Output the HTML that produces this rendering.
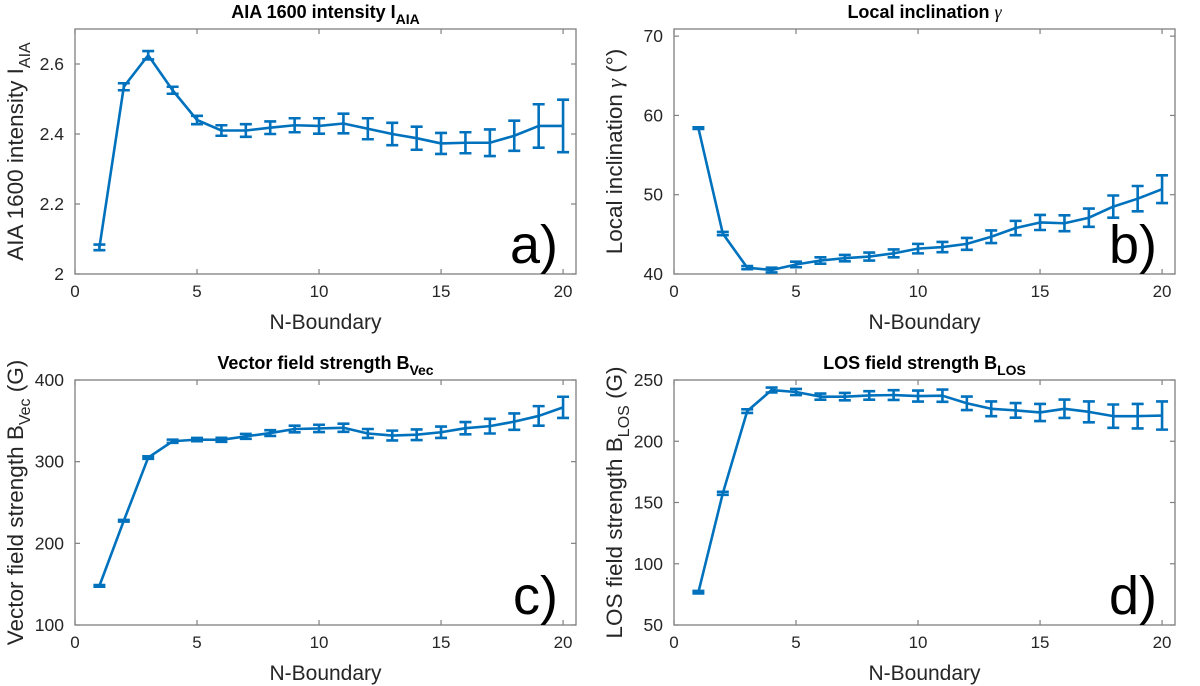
<!DOCTYPE html>
<html><head><meta charset="utf-8"><style>
body{margin:0;background:#fff;}
svg{display:block;font-family:"Liberation Sans",Arial,sans-serif;}
</style></head><body>
<svg id="fig" width="1200" height="686" viewBox="0 0 1200 686" xmlns="http://www.w3.org/2000/svg"></svg>
<script>
const nBoundary = [1,2,3,4,5,6,7,8,9,10,11,12,13,14,15,16,17,18,19,20];
const aiaValues = [2.076,2.535,2.625,2.525,2.44,2.41,2.41,2.418,2.425,2.423,2.43,2.415,2.40,2.388,2.373,2.375,2.375,2.395,2.423,2.423];
const aiaErrors = [0.008,0.01,0.012,0.01,0.012,0.015,0.018,0.018,0.02,0.022,0.028,0.03,0.032,0.033,0.03,0.03,0.038,0.043,0.062,0.075];
const incValues = [58.4,45.1,40.8,40.5,41.2,41.7,42.0,42.2,42.6,43.2,43.4,43.8,44.7,45.8,46.5,46.4,47.1,48.5,49.5,50.7];
const incErrors = [0.1,0.2,0.2,0.3,0.35,0.4,0.4,0.5,0.5,0.6,0.65,0.75,0.8,0.9,0.95,1.0,1.15,1.4,1.6,1.75];
const vecValues = [147.9,227.7,305,325,327,326.8,331,335,340,340.7,341.5,334.5,332,333,336,341,343.5,349,356,366.5];
const vecErrors = [1,1,1.5,2,2,2.5,3,3.5,4,4.5,5,5.5,6,6.5,7,7.5,9,10,12,13];
const losValues = [76.8,157.5,224.6,241.8,240.2,236.4,236.4,237.4,237.7,236.9,237.2,231,226.5,225.2,223.5,226.5,224,220.5,220.5,221];
const losErrors = [1,1.2,1.5,2,2.5,2.5,3,3.5,4,4.5,5,5.5,6,6,7,7.5,8.5,9.5,10,11.5];
const xTicks = [0,5,10,15,20];
const aiaTicks = [2,2.2,2.4,2.6];
const incTicks = [40,50,60,70];
const vecTicks = [100,200,300,400];
const losTicks = [50,100,150,200,250];

const NS="http://www.w3.org/2000/svg";
const svg=document.getElementById('fig');
function mk(tag,attrs,parent){const e=document.createElementNS(NS,tag);for(const k in attrs)e.setAttribute(k,attrs[k]);(parent||svg).appendChild(e);return e;}

function panel(p){
  const g=mk('g',{});
  
  
  const L=p.x0,R=p.x0+501,T=p.y0,B=p.y0+245;
  const sx=v=>L+(v-0)/(20.53-0)*(R-L);
  const sy=v=>B-(v-p.ymin)/(p.ymax-p.ymin)*(B-T);
  const box=mk('rect',{x:L,y:T,width:R-L,height:B-T,fill:'none',stroke:'#808080','stroke-width':1.3},g);
  
  
  xTicks.forEach(t=>{
    const x=sx(t);
    mk('line',{x1:x,x2:x,y1:B,y2:B-5,stroke:'#808080','stroke-width':1.2},g);
    mk('line',{x1:x,x2:x,y1:T,y2:T+5,stroke:'#808080','stroke-width':1.2},g);
    const tl=mk('text',{x:x,y:B+23,'font-size':17,'text-anchor':'middle',fill:'#262626'},g);
    tl.textContent=t;
    
    
  });
  p.ticks.forEach(t=>{
    const y=sy(t);
    mk('line',{x1:L,x2:L+5,y1:y,y2:y,stroke:'#808080','stroke-width':1.2},g);
    mk('line',{x1:R,x2:R-5,y1:y,y2:y,stroke:'#808080','stroke-width':1.2},g);
    const tl=mk('text',{x:L-11,y:y+6,'font-size':17.5,'text-anchor':'end',fill:'#262626'},g);
    tl.textContent=t;
    
    
  });
  const xl=mk('text',{x:(L+R)/2,y:B+55,'font-size':21,'text-anchor':'middle',fill:'#262626'},g);
  xl.textContent='N-Boundary';
  
  
  const yl=mk('text',{x:0,y:0,'font-size':22.5,'text-anchor':'middle',fill:'#262626',transform:`translate(${L-52},${(T+B)/2}) rotate(-90)`},g);
  yl.innerHTML=p.ylabel;
  
  
  const tt=mk('text',{x:(L+R)/2,y:T-11,'font-size':18,'font-weight':'bold','text-anchor':'middle',fill:'#000'},g);
  tt.innerHTML=p.title;
  
  
  const pts=nBoundary.map((n,i)=>sx(n)+','+sy(p.vals[i])).join(' ');
  const line=mk('polyline',{points:pts,fill:'none',stroke:'#0072BD','stroke-width':2.6,'stroke-linejoin':'round'},g);
  
  
  nBoundary.forEach((n,i)=>{
    const x=sx(n),y1=sy(p.vals[i]-p.errs[i]),y2=sy(p.vals[i]+p.errs[i]);
    const eb=mk('path',{d:`M${x},${y1}V${y2}M${x-6},${y1}H${x+6}M${x-6},${y2}H${x+6}`,stroke:'#0072BD','stroke-width':2.6,fill:'none'},g);
    
    
  });
  const lab=mk('text',{x:R-18,y:B-11,'font-size':54,'text-anchor':'end',fill:'#000'},g);
  lab.textContent=p.letter;
  
  
}
panel({id:'aia',x0:75,y0:29,ymin:2,ymax:2.7,ticks:aiaTicks,vals:aiaValues,errs:aiaErrors,letter:'a)',
  title:'AIA 1600 intensity I<tspan font-size="14" dy="6">AIA</tspan>',
  ylabel:'AIA 1600 intensity I<tspan font-size="16" dy="7">AIA</tspan>'});
panel({id:'inclination',x0:674,y0:29,ymin:40,ymax:70.9,ticks:incTicks,vals:incValues,errs:incErrors,letter:'b)',
  title:'Local inclination <tspan font-family="Liberation Serif" font-style="italic" font-weight="normal">γ</tspan>',
  ylabel:'Local inclination <tspan font-family="Liberation Serif" font-style="italic">γ</tspan> (°)'});
panel({id:'vector',x0:75,y0:380,ymin:100,ymax:400,ticks:vecTicks,vals:vecValues,errs:vecErrors,letter:'c)',
  title:'Vector field strength B<tspan font-size="14" dy="6">Vec</tspan>',
  ylabel:'Vector field strength B<tspan font-size="16" dy="7">Vec</tspan><tspan dy="-7"> (G)</tspan>'});
panel({id:'los',x0:674,y0:380,ymin:50,ymax:250,ticks:losTicks,vals:losValues,errs:losErrors,letter:'d)',
  title:'LOS field strength B<tspan font-size="14" dy="6">LOS</tspan>',
  ylabel:'LOS field strength B<tspan font-size="16" dy="7">LOS</tspan><tspan dy="-7"> (G)</tspan>'});
</script>
</body></html>
